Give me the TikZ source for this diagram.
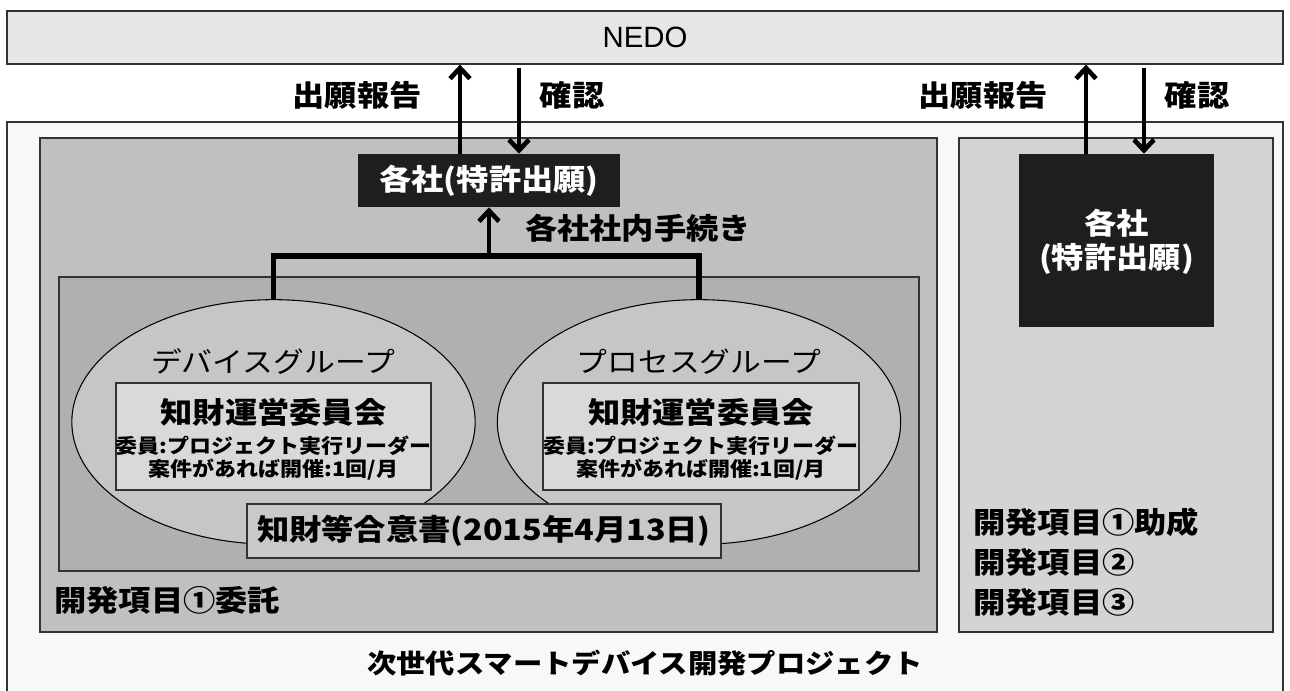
\documentclass[tikz,border=0pt]{standalone}
\usepackage{fontspec}
\setmainfont{Liberation Sans}
\newfontfamily\jp{Noto Sans CJK JP}[FakeStretch=1.1]
\usetikzlibrary{arrows.meta,fit,shapes.geometric}
\definecolor{nedofill}{HTML}{E6E6E6}
\definecolor{outerfill}{HTML}{F8F8F8}
\definecolor{leftfill}{HTML}{C0C0C0}
\definecolor{rightfill}{HTML}{D4D4D4}
\definecolor{innerfill}{HTML}{B0B0B0}
\definecolor{ellfill}{HTML}{C6C6C6}
\definecolor{rectfill}{HTML}{D9D9D9}
\definecolor{agrfill}{HTML}{C9C9C9}
\definecolor{darkfill}{HTML}{1E1E1E}
\definecolor{edge}{HTML}{333333}
\begin{document}
\begin{tikzpicture}[x=0.75pt,y=-0.75pt,
  box/.style={draw=edge, line width=0.9pt, rectangle, inner sep=0pt},
  darkbox/.style={fill=darkfill, draw=none, rectangle, inner sep=0pt},
  whitetxt/.style={text=white, inner sep=0pt, font=\jp\bfseries\fontsize{22}{26}\selectfont},
  grp/.style={ellipse, draw=black, line width=0.8pt, fill=ellfill, inner sep=0pt,
    minimum width=302.5pt, minimum height=183.5pt},
  lab/.style={font=\jp\bfseries\fontsize{22}{26}\selectfont, inner sep=0pt},
  grptitle/.style={font=\jp\fontsize{21}{25}\selectfont, inner sep=0pt},
  comm/.style={font=\jp\bfseries\fontsize{22}{26}\selectfont, inner sep=0pt},
  small/.style={font=\jp\bfseries\fontsize{15}{18}\selectfont, inner sep=0pt},
  item/.style={font=\jp\bfseries\fontsize{22}{26}\selectfont, inner sep=0pt, anchor=west},
  conn/.style={line width=4pt, line join=miter},
  arr/.style={line width=3.5pt, -{Straight Barb[length=8pt,width=15pt]}}
]
\useasboundingbox (0,0) rectangle (1290,690);
% frames
\node[box, fill=nedofill, fit={(7,11)(1283,64)}] (nedo) {};
\node[inner sep=0pt, font=\fontsize{22}{26}\selectfont] (nedot) at (nedo.center) {NEDO};
\node[box, fill=outerfill, fit={(7,122)(1283,697)}] (outer) {};
\node[box, fill=leftfill, fit={(40,138)(937,632)}] (leftp) {};
\node[box, fill=rightfill, fit={(959,138)(1273,632)}] (rightp) {};
\node[box, fill=innerfill, fit={(59,277)(919,571)}] (inner) {};
% groups
\node[grp] (ell1) at (273.5,422) {};
\node[grp] (ell2) at (699,422) {};
\node[box, fill=rectfill, fit={(116,383)(431,490)}] (r1) {};
\node[box, fill=rectfill, fit={(543,383)(859,490)}] (r2) {};
\node[box, fill=agrfill, fit={(247,504)(721,558)}] (agr) {};
\node[lab] (agrt) at (agr.center) {知財等合意書(2015年4月13日)};
% company boxes
\node[darkbox, fit={(358,154)(620,207)}] (co1) {};
\node[whitetxt] (co1t) at (co1.center) {各社(特許出願)};
\node[darkbox, fit={(1019,154)(1214,327)}] (co2) {};
\node[whitetxt] (co2a) at (1116.5,223) {各社};
\node[whitetxt] (co2b) at (1116.5,259) {(特許出願)};
% labels
\node[lab] (rep1) at (357,95) {出願報告};
\node[lab] (chk1) at (572,95) {確認};
\node[lab] (rep2) at (983,95) {出願報告};
\node[lab] (chk2) at (1197,95) {確認};
\node[lab] (proc) at (638,228) {各社社内手続き};
\node[grptitle] (g1) at (273,362) {デバイスグループ};
\node[grptitle] (g2) at (699,362) {プロセスグループ};
\node[comm] (c1) at (273.5,412) {知財運営委員会};
\node[small] (c1b) at (273.5,446) {委員:プロジェクト実行リーダー};
\node[small] (c1c) at (273.5,470) {案件があれば開催:1回/月};
\node[comm] (c2) at (701,412) {知財運営委員会};
\node[small] (c2b) at (701,446) {委員:プロジェクト実行リーダー};
\node[small] (c2c) at (701,470) {案件があれば開催:1回/月};
\node[item] (it1) at (54,600) {開発項目①委託};
\node[item] (it2) at (973,522) {開発項目①助成};
\node[item] (it3) at (973,562) {開発項目②};
\node[item] (it4) at (973,602) {開発項目③};
\node[lab, font=\jp\bfseries\fontsize{20}{24}\selectfont] (title) at (645,663) {次世代スマートデバイス開発プロジェクト};
% connector coordinates
\coordinate (ux1) at (460,0);
\coordinate (dx1) at (519,68);
\coordinate (ux2) at (1086,0);
\coordinate (dx2) at (1144,68);
\coordinate (hy) at (0,256);
% arrows to NEDO
\draw[arr] (co1.north -| ux1) -- (nedo.south -| ux1);
\draw[arr] (dx1) -- (co1.north -| dx1);
\draw[arr] (co2.north -| ux2) -- (nedo.south -| ux2);
\draw[arr] (dx2) -- (co2.north -| dx2);
% internal procedure
\draw[conn] (ell1.north) -- (ell1.north |- hy) -- (ell2.north |- hy) -- (ell2.north);
\draw[arr] (co1.south |- hy) -- (co1.south);
\end{tikzpicture}
\end{document}
